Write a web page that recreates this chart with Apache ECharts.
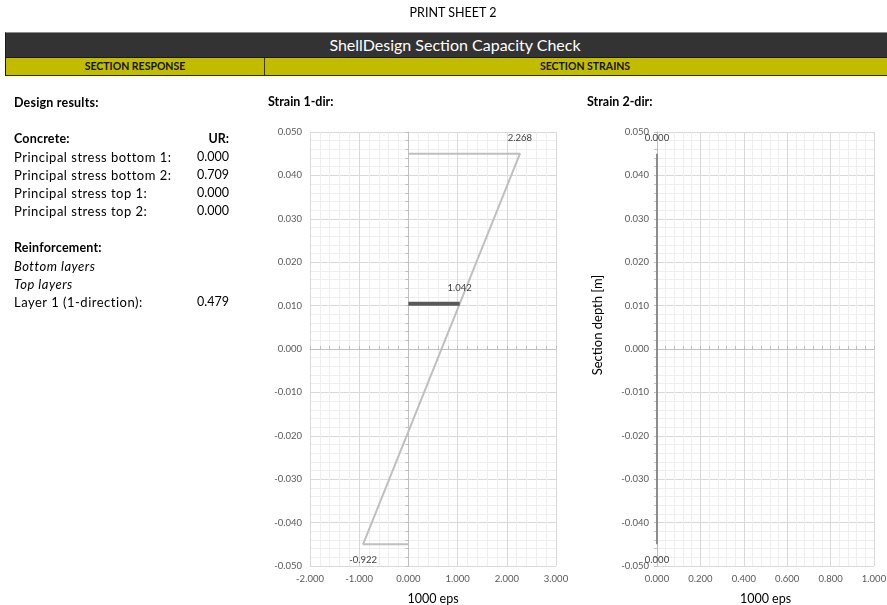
<!DOCTYPE html>
<html>
<head>
<meta charset="utf-8">
<title>PRINT SHEET 2</title>
<script src="https://cdn.jsdelivr.net/npm/echarts@6/dist/echarts.min.js"></script>
<style>
  html, body { margin: 0; padding: 0; background: #ffffff; }
  body { width: 887px; height: 605px; position: relative; overflow: hidden;
         font-family: Lato, "Open Sans", "Liberation Sans", sans-serif; color: #000; }
  #chart { position: absolute; left: 0; top: 0; width: 887px; height: 605px; }
  .abs { position: absolute; white-space: nowrap; }
  .sheet { left: 0; width: 906px; top: 5px; text-align: center; font-size: 12.5px; }
  .bar-dark { left: 5px; top: 32px; width: 898px; height: 24px; background: #333333;
              border-top: 1px solid #8c8c8c; border-left: 1px solid #1a1a1a;
              color: #ffffff; font-size: 16px; line-height: 24px; text-align: center; }
  .bar-yellow { top: 57px; height: 17px; background: #c2bc00; border-top: 1px solid #1a1a1a;
                border-bottom: 1px solid #1a1a1a; font-size: 10.5px; font-weight: bold;
                line-height: 17px; text-align: center; color: #111; }
  .panel { font-size: 13px; line-height: 18px; letter-spacing: 0.5px; }
  .b { font-weight: bold; font-size: 12.5px; letter-spacing: 0.2px; }
  .i { font-style: italic; }
  .val { text-align: right; width: 60px; letter-spacing: 0; font-size: 12.5px; }
</style>
</head>
<body>
<div id="chart"></div>
<div id="overlay"></div>
<script>
// ---- strain profiles through the section (x: 1000 eps, y: depth in m) ----
const strain1Eps   = [0.000, 2.268, -0.922, 0.000];
const strain1Depth = [0.045, 0.045, -0.045, -0.045];
const steel1Eps    = [0.000, 1.042];
const steel1Depth  = [0.0104, 0.0104];
const strain2Eps   = [0.000, 0.000, 0.000, 0.000];
const strain2Depth = [0.045, 0.045, -0.045, -0.045];

// ---- axis ranges ----
const depthAxis = { min: -0.05, max: 0.05, interval: 0.01 };
const eps1Axis  = { min: -2, max: 3, interval: 1 };
const eps2Axis  = { min: 0, max: 1, interval: 0.2 };

// ---- text panel ----
const sheetTitle = 'PRINT SHEET 2';
const mainTitle = 'ShellDesign Section Capacity Check';
const leftHeader = 'SECTION RESPONSE';
const rightHeader = 'SECTION STRAINS';
const concreteItems = ['Principal stress bottom 1:', 'Principal stress bottom 2:',
                       'Principal stress top 1:', 'Principal stress top 2:'];
const concreteUR = [0.000, 0.709, 0.000, 0.000];
const reinfItems = ['Layer 1 (1-direction):'];
const reinfUR = [0.479];

// build the header and the left-hand results list
const ov = document.getElementById('overlay');
function add(cls, text, style) {
  const d = document.createElement('div');
  d.className = 'abs ' + cls;
  d.textContent = text;
  Object.assign(d.style, style || {});
  ov.appendChild(d);
  return d;
}
add('sheet', sheetTitle);
add('bar-dark', mainTitle);
add('bar-yellow', leftHeader, { left: '5px', width: '258px', borderLeft: '1px solid #1a1a1a', borderRight: '2px solid #3a3a00' });
add('bar-yellow', rightHeader, { left: '265px', width: '640px' });

let y = 94;
add('panel b', 'Design results:', { left: '14px', top: y + 'px' });
y = 130;
add('panel b', 'Concrete:', { left: '14px', top: y + 'px' });
add('panel b val', 'UR:', { left: '169px', top: y + 'px' });
concreteItems.forEach((t, i) => {
  const yy = y + 18 * (i + 1);
  add('panel', t, { left: '14px', top: yy + 'px' });
  add('panel val', concreteUR[i].toFixed(3), { left: '169px', top: yy + 'px' });
});
y = 239;
add('panel b', 'Reinforcement:', { left: '14px', top: y + 'px' });
add('panel i', 'Bottom layers', { left: '14px', top: (y + 18) + 'px' });
add('panel i', 'Top layers', { left: '14px', top: (y + 36) + 'px' });
reinfItems.forEach((t, i) => {
  const yy = y + 54 + 18 * i;
  add('panel', t, { left: '14px', top: yy + 'px' });
  add('panel val', reinfUR[i].toFixed(3), { left: '169px', top: yy + 'px' });
});

// ---- charts ----
const chart = echarts.init(document.getElementById('chart'), null, { renderer: 'canvas' });
const FONT = 'Lato, "Open Sans", sans-serif';
const labelColor = '#595959';
const f3 = v => v.toFixed(3);

function pairs(xs, ys) { return xs.map((x, i) => [x, ys[i]]); }

function xAxesFor(gridIndex, range, name) {
  return [
    { // labelled axis along the bottom edge
      type: 'value', gridIndex, min: range.min, max: range.max, interval: range.interval,
      position: 'bottom', name, nameLocation: 'middle', nameGap: 26,
      nameTextStyle: { fontFamily: FONT, fontSize: 12.5, color: '#000' },
      axisLine: { show: false, onZero: false }, axisTick: { show: false },
      axisLabel: { formatter: f3, fontFamily: FONT, fontSize: 9.5, color: labelColor, margin: 8 },
      splitLine: { show: true, lineStyle: { color: '#d9d9d9', width: 1 } },
      minorTick: { show: false, splitNumber: 5 },
      minorSplitLine: { show: true, lineStyle: { color: '#eeeeee', width: 1 } }
    },
    { // axis line crossing at zero depth
      type: 'value', gridIndex, min: range.min, max: range.max, interval: range.interval,
      position: 'top',
      axisLine: { show: true, onZero: true, lineStyle: { color: '#bfbfbf', width: 1 } },
      axisTick: { show: true, inside: false, length: 3, lineStyle: { color: '#bfbfbf' } },
      minorTick: { show: true, splitNumber: 5, length: 3, lineStyle: { color: '#bfbfbf' } },
      axisLabel: { show: false }, splitLine: { show: false }
    }
  ];
}

function yAxesFor(gridIndex) {
  return [
    {
      type: 'value', gridIndex, min: depthAxis.min, max: depthAxis.max, interval: depthAxis.interval,
      position: 'left',
      axisLine: { show: false, onZero: false }, axisTick: { show: false },
      axisLabel: { formatter: f3, fontFamily: FONT, fontSize: 9.5, color: labelColor, margin: 8 },
      splitLine: { show: true, lineStyle: { color: '#d9d9d9', width: 1 } },
      minorTick: { show: false, splitNumber: 5 },
      minorSplitLine: { show: true, lineStyle: { color: '#eeeeee', width: 1 } }
    },
    { // axis line crossing at zero strain
      type: 'value', gridIndex, min: depthAxis.min, max: depthAxis.max, interval: depthAxis.interval,
      position: 'right',
      axisLine: { show: true, onZero: true, lineStyle: { color: '#bfbfbf', width: 1 } },
      axisTick: { show: true, inside: true, length: 3, lineStyle: { color: '#bfbfbf' } },
      minorTick: { show: true, splitNumber: 5, length: 3, lineStyle: { color: '#bfbfbf' } },
      axisLabel: { show: false }, splitLine: { show: false }
    }
  ];
}

const dataLabel = (pos) => ({
  show: true, position: pos, distance: 10, formatter: p => f3(p.value[0]),
  fontFamily: FONT, fontSize: 9.5, color: '#404040'
});

// points themselves are invisible; only the line and the end labels show
const hiddenPoint = { color: 'rgba(0,0,0,0)', borderWidth: 0 };

function profile(xs, ys) {
  // top and bottom fibre values carry labels
  return pairs(xs, ys).map((v, i) => {
    if (i === 1) return { value: v, label: dataLabel('top') };
    if (i === 2) return { value: v, label: dataLabel('bottom') };
    return { value: v };
  });
}

const steelData = pairs(steel1Eps, steel1Depth).map((v, i) =>
  i === steel1Eps.length - 1 ? { value: v, label: dataLabel('top') } : { value: v });

const lineSeries = (name, xi, yi, data, lineStyle) => ({
  name, type: 'line', xAxisIndex: xi, yAxisIndex: yi, data,
  symbol: 'circle', symbolSize: 2, showSymbol: true, showAllSymbol: true,
  itemStyle: hiddenPoint, lineStyle, label: { show: false }, emphasis: { disabled: true }
});

chart.setOption({
  animation: false,
  title: [
    { text: 'Strain 1-dir:', left: 268, top: 95, padding: 0, textStyle: { fontFamily: FONT, fontSize: 12.5, fontWeight: 'bold', color: '#000' } },
    { text: 'Strain 2-dir:', left: 587, top: 95, padding: 0, textStyle: { fontFamily: FONT, fontSize: 12.5, fontWeight: 'bold', color: '#000' } }
  ],
  grid: [
    { left: 310, top: 132, width: 246, height: 434, outerBoundsMode: 'none', containLabel: false },
    { left: 657, top: 132, width: 217, height: 434, outerBoundsMode: 'none', containLabel: false }
  ],
  graphic: [
    { type: 'text', x: 598, y: 325, rotation: Math.PI / 2,
      style: { text: 'Section depth [m]', fontFamily: FONT, fontSize: 13, fill: '#000',
               align: 'center', verticalAlign: 'middle' } }
  ],
  xAxis: [...xAxesFor(0, eps1Axis, '1000 eps'), ...xAxesFor(1, eps2Axis, '1000 eps')],
  yAxis: [...yAxesFor(0), ...yAxesFor(1)],
  series: [
    lineSeries('Strain 1-dir', 0, 0, profile(strain1Eps, strain1Depth), { color: '#bfbfbf', width: 2 }),
    lineSeries('Layer 1', 0, 0, steelData, { color: '#595959', width: 4, cap: 'butt' }),
    lineSeries('Strain 2-dir', 2, 2, profile(strain2Eps, strain2Depth), { color: '#8c8c8c', width: 2 })
  ]
});
</script>
</body>
</html>
